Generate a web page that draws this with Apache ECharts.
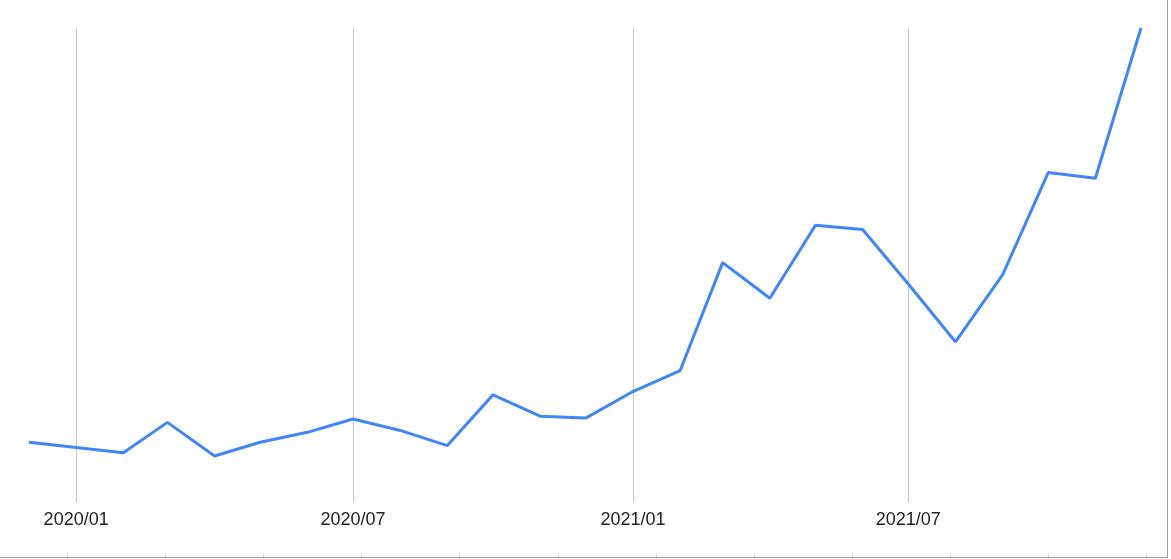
<!DOCTYPE html>
<html>
<head>
<meta charset="utf-8">
<script src="https://cdn.jsdelivr.net/npm/echarts@6/dist/echarts.min.js"></script>
<style>
html,body{margin:0;padding:0;background:#fff;}
#chart{width:1171px;height:559px;}
</style>
</head>
<body>
<div id="chart"></div>
<script>
const months = ['2019-12-01','2020-01-01','2020-02-01','2020-03-01','2020-04-01','2020-05-01','2020-06-01','2020-07-01','2020-08-01','2020-09-01','2020-10-01','2020-11-01','2020-12-01','2021-01-01','2021-02-01','2021-03-01','2021-04-01','2021-05-01','2021-06-01','2021-07-01','2021-08-01','2021-09-01','2021-10-01','2021-11-01','2021-12-01'];
const values = [12.6,11.5,10.4,16.8,9.7,12.6,14.7,17.5,15.1,11.9,22.6,18.1,17.7,23.3,27.7,50.5,43.0,58.4,57.5,46.0,33.8,47.9,69.5,68.3,100];
const tickDates = ['2020-01-01','2020-07-01','2021-01-01','2021-07-01'];
const tickLabels = ['2020/01','2020/07','2021/01','2021/07'];

const ts = s => new Date(s + 'T00:00:00Z').getTime();
const tickTs = tickDates.map(ts);

const borderTicks = [];
for (let k = 0; k < 12; k++) {
  const x = Math.round(67 + k * 98.1) + 0.5;
  borderTicks.push({type:'line',shape:{x1:x,y1:554,x2:x,y2:557},style:{stroke:'#d0d0d0',lineWidth:1}});
}

const chart = echarts.init(document.getElementById('chart'), null, {renderer:'canvas'});
chart.setOption({
  animation:false,
  backgroundColor:'#fff',
  grid:{left:29,right:30,top:28,bottom:57,containLabel:false},
  xAxis:{
    type:'time',
    min:ts(months[0]),
    max:ts(months[months.length-1]),
    axisLine:{show:false},
    axisTick:{show:false},
    axisLabel:{show:false},
    splitLine:{show:false}
  },
  yAxis:{
    type:'value',min:0,max:100,
    show:false,
    splitLine:{show:false}
  },
  series:[{
    type:'line',
    data:months.map((m,i)=>[ts(m),values[i]]),
    showSymbol:false,
    lineStyle:{color:'#4285f4',width:3},
    itemStyle:{color:'#4285f4'},
    z:3,
    markLine:{
      silent:true,
      symbol:['none','none'],
      label:{
        show:true,
        position:'start',
        distance:9,
        fontFamily:'Liberation Sans, Arial, sans-serif',
        fontSize:18,
        color:'#222',
        formatter:function(p){ return tickLabels[p.dataIndex]; }
      },
      lineStyle:{color:'#c6c6c6',width:1,type:'solid'},
      data:tickTs.map(t=>({xAxis:t})),
      z:1
    }
  }],
  graphic:[
    {type:'line',shape:{x1:1167.5,y1:0,x2:1167.5,y2:557.5},style:{stroke:'#9e9e9e',lineWidth:1}},
    {type:'line',shape:{x1:0,y1:557.5,x2:1168,y2:557.5},style:{stroke:'#9e9e9e',lineWidth:1}}
  ].concat(borderTicks)
});
</script>
</body>
</html>
